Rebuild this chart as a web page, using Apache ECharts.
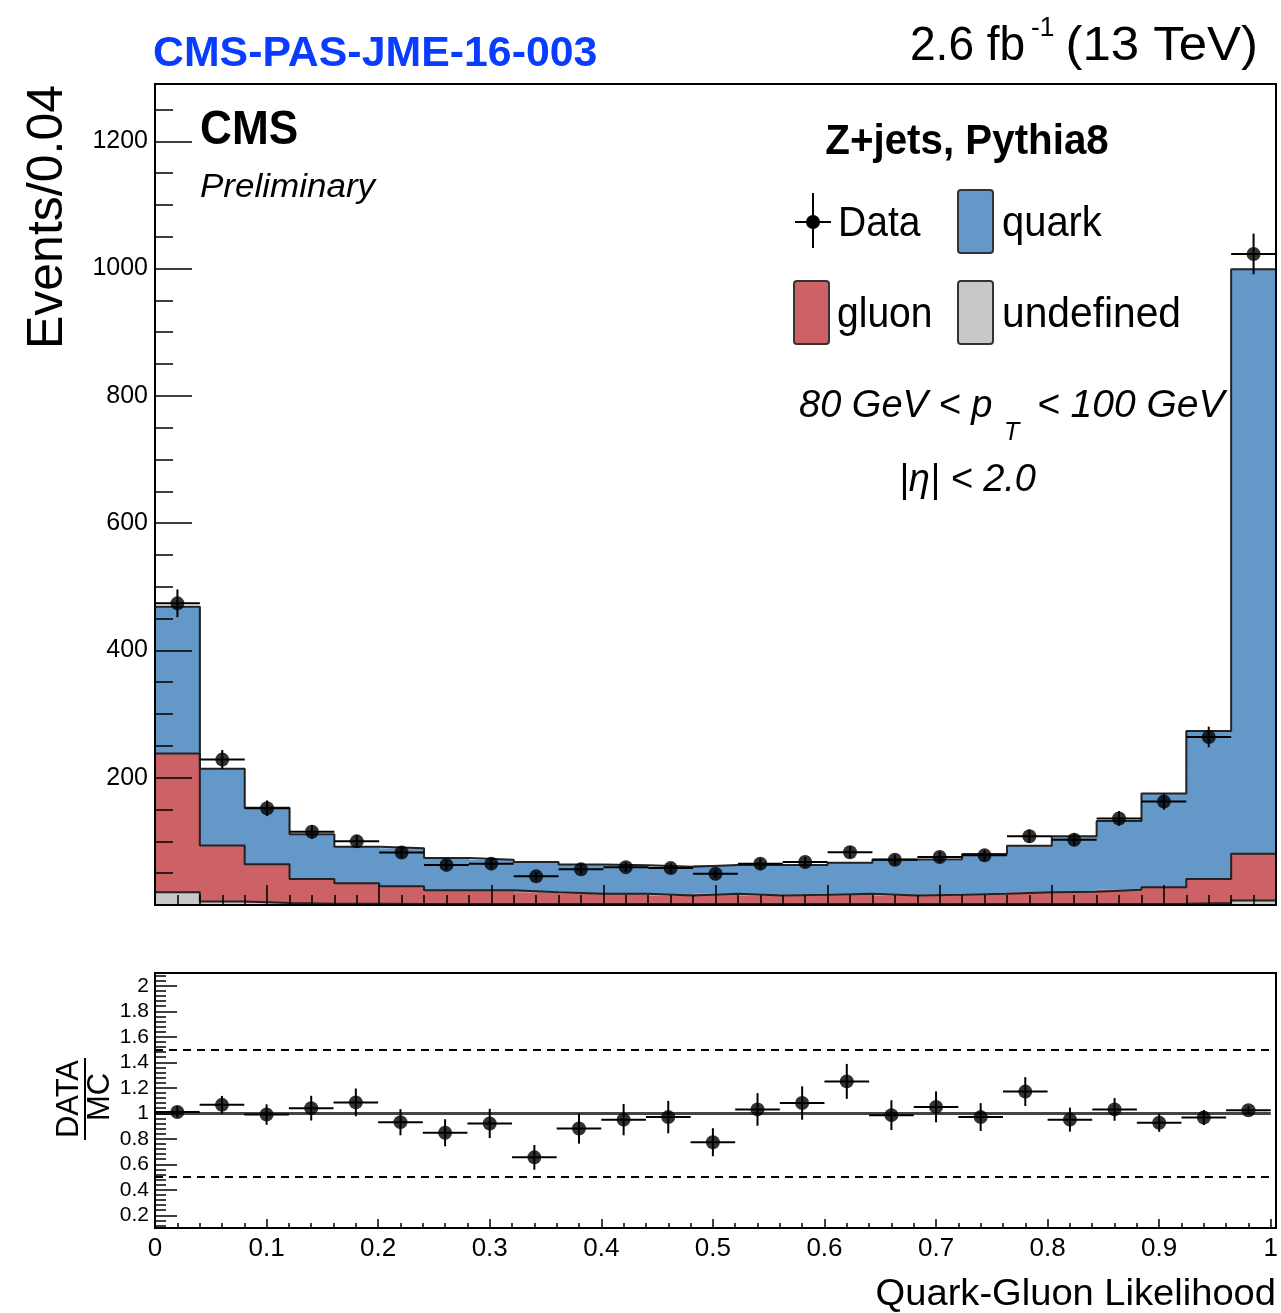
<!DOCTYPE html>
<html><head><meta charset="utf-8">
<script src="https://cdn.jsdelivr.net/npm/echarts/dist/echarts.min.js"></script>
<style>html,body{margin:0;padding:0;background:#fff}#c{width:1281px;height:1313px}</style>
</head><body><div id="c"></div>
<script>
// ---------------- data ----------------
const binCenters = [0.02,0.06,0.10,0.14,0.18,0.22,0.26,0.30,0.34,0.38,0.42,0.46,0.50,0.54,0.58,0.62,0.66,0.70,0.74,0.78,0.82,0.86,0.90,0.94,0.98];
const binWidth = 0.04;
const undefinedCounts = [20,5.5,3,2,2,1.5,1.5,1.5,1.5,1.5,1.5,1.5,1.5,1.5,1.5,1.5,1.5,1.5,1.5,1.5,1.5,1.5,2,3,7];
const gluonCounts = [218,88,61,39,32,28,21.5,21.5,18.5,16,16,13.5,16,13.5,14.5,16,13.5,14.5,16,18.5,19.5,22.5,26,38,73.5];
const quarkCounts = [230.5,120.5,89,70,57.5,59.5,51,48,47.5,46,45,45,45.5,48,47,49,56.5,56,62.5,73,87,108,147,232.5,918.5];
const dataCounts = [474,228.5,152,115,100,82.5,63,65,45,56,59.5,58,49,65,67.5,83,71,75.5,78,108,102.5,136,162.5,264,1023];
const dataErrors = [21.8,15.1,12.3,10.7,10,9.1,7.9,8.1,6.7,7.5,7.7,7.6,7,8.1,8.2,9.1,8.4,8.7,8.8,10.4,10.1,11.7,12.7,16.2,32];
const ratioValues = [1.01,1.066,0.99,1.04,1.085,0.93,0.847,0.92,0.654,0.88,0.95,0.97,0.773,1.03,1.08,1.25,0.985,1.05,0.97,1.17,0.95,1.03,0.926,0.966,1.024];
const ratioErrors = [0.046,0.07,0.08,0.097,0.109,0.103,0.106,0.115,0.097,0.118,0.123,0.127,0.11,0.128,0.131,0.137,0.117,0.121,0.109,0.113,0.094,0.089,0.072,0.059,0.032];
const countTickLabels = [200,400,600,800,1000,1200];
const ratioTickLabels = [0.2,0.4,0.6,0.8,1,1.2,1.4,1.6,1.8,2];
const ratioRefLines = {unity: 1, upper: 1.5, lower: 0.5};

// ---------------- helpers ----------------
const FONT = "'Liberation Sans', Arial, Helvetica, sans-serif";
const C_QUARK = '#6498c8', C_GLUON = '#cc6166', C_UNDEF = '#c8c8c8';
const lvlU = undefinedCounts.slice();
const lvlG = lvlU.map((v,i)=>v+gluonCounts[i]);
const lvlQ = lvlG.map((v,i)=>v+quarkCounts[i]);
const lo = binCenters.map(c=>c-binWidth/2), hi = binCenters.map(c=>c+binWidth/2);

function layer(base, top){ return binCenters.map((c,i)=>[lo[i],hi[i],base?base[i]:0,top[i]]); }
function stepData(levels){ const d = lo.map((e,i)=>[e,levels[i]]); d.push([hi[hi.length-1], levels[levels.length-1]]); return d; }
function fillRender(color){
  return function(params, api){
    const p0 = api.coord([api.value(0), api.value(3)]);
    const p1 = api.coord([api.value(1), api.value(2)]);
    return {type:'rect', shape:{x:p0[0], y:p0[1], width:p1[0]-p0[0]+0.7, height:p1[1]-p0[1]}, style:{fill:color}};
  };
}
function errRender(params, api){
  const x=api.value(0), y=api.value(1), e=api.value(2);
  const t=api.coord([x,y+e]), b=api.coord([x,y-e]), l=api.coord([x-binWidth/2,y]), r=api.coord([x+binWidth/2,y]);
  return {type:'group', children:[
    {type:'line', shape:{x1:t[0],y1:t[1],x2:b[0],y2:b[1]}, style:{stroke:'#000', lineWidth:2}},
    {type:'line', shape:{x1:l[0],y1:l[1],x2:r[0],y2:r[1]}, style:{stroke:'#000', lineWidth:2}}
  ]};
}
const minorCount = []; for (let v=50; v<1290; v+=50) minorCount.push(v);
const minorRatio = []; for (let k=3; k<=52; k++) minorRatio.push(Math.round(k*4)/100);

function txt(x,y,text,font,opts){
  opts = opts||{};
  return {type:'text', x:x, y:y, z:100, rotation:opts.rot||0, scaleX:opts.sx||1, scaleY:opts.sy||1,
    style:{text:text, font:font, fill:opts.fill||'#000', textAlign:opts.align||'left', textVerticalAlign:'middle'}};
}

const G0 = {left:155, top:84, width:1121, height:821};
const G1 = {left:155, top:973, width:1121, height:255};

const axisLineStyle = {color:'#000', width:2};
const plain = v => String(v);
const option = {
  animation:false,
  backgroundColor:'#fff',
  grid:[G0, G1],
  xAxis:[
    {type:'value', gridIndex:0, min:0, max:1, interval:0.1, z:10,
     axisLine:{show:true, onZero:false, lineStyle:axisLineStyle},
     axisTick:{show:true, inside:true, length:20, lineStyle:{color:'#000', width:1.5}},
     minorTick:{show:true, splitNumber:5, length:10, lineStyle:{color:'#000', width:1.5}},
     axisLabel:{show:false}, splitLine:{show:false}},
    {type:'value', gridIndex:1, min:0, max:1, interval:0.1, z:10,
     axisLine:{show:true, onZero:false, lineStyle:axisLineStyle},
     axisTick:{show:true, inside:true, length:9, lineStyle:{color:'#000', width:1.5}},
     minorTick:{show:true, splitNumber:5, length:5, lineStyle:{color:'#000', width:1.5}},
     axisLabel:{show:true, margin:8, color:'#000', fontSize:26, fontFamily:FONT, formatter:plain},
     splitLine:{show:false}}
  ],
  yAxis:[
    {type:'value', gridIndex:0, min:0, max:1290, z:10, position:'left',
     axisLine:{show:true, onZero:false, lineStyle:axisLineStyle},
     axisTick:{show:true, inside:true, length:37, customValues:countTickLabels, lineStyle:{color:'#000', width:1.5}},
     axisLabel:{show:true, margin:7, color:'#000', fontSize:25, fontFamily:FONT, customValues:countTickLabels, formatter:plain},
     splitLine:{show:false}},
    {type:'value', gridIndex:1, min:0.1, max:2.1, z:10, position:'left',
     axisLine:{show:true, onZero:false, lineStyle:axisLineStyle},
     axisTick:{show:true, inside:true, length:22, customValues:ratioTickLabels, lineStyle:{color:'#000', width:1.5}},
     axisLabel:{show:true, margin:6, color:'#000', fontSize:21, fontFamily:FONT, customValues:ratioTickLabels, formatter:plain},
     splitLine:{show:false}},
    {type:'value', gridIndex:0, min:0, max:1290, z:10, position:'left', offset:0,
     axisLine:{show:false}, axisLabel:{show:false}, splitLine:{show:false},
     axisTick:{show:true, inside:true, length:18, customValues:minorCount, lineStyle:{color:'#000', width:1.5}}},
    {type:'value', gridIndex:1, min:0.1, max:2.1, z:10, position:'left', offset:0,
     axisLine:{show:false}, axisLabel:{show:false}, splitLine:{show:false},
     axisTick:{show:true, inside:true, length:11, customValues:minorRatio, lineStyle:{color:'#000', width:1.5}}}
  ],
  series:[
    {type:'custom', name:'undefined', xAxisIndex:0, yAxisIndex:0, renderItem:fillRender(C_UNDEF), encode:{x:[0,1], y:[2,3]}, data:layer(null,lvlU), z:1},
    {type:'custom', name:'gluon', xAxisIndex:0, yAxisIndex:0, renderItem:fillRender(C_GLUON), encode:{x:[0,1], y:[2,3]}, data:layer(lvlU,lvlG), z:1},
    {type:'custom', name:'quark', xAxisIndex:0, yAxisIndex:0, renderItem:fillRender(C_QUARK), encode:{x:[0,1], y:[2,3]}, data:layer(lvlG,lvlQ), z:1},
    {type:'line', xAxisIndex:0, yAxisIndex:0, step:'end', symbol:'none', data:stepData(lvlU), lineStyle:{color:'#222', width:2}, z:3},
    {type:'line', xAxisIndex:0, yAxisIndex:0, step:'end', symbol:'none', data:stepData(lvlG), lineStyle:{color:'#222', width:2}, z:3},
    {type:'line', xAxisIndex:0, yAxisIndex:0, step:'end', symbol:'none', data:stepData(lvlQ), lineStyle:{color:'#222', width:2}, z:3},
    {type:'custom', xAxisIndex:0, yAxisIndex:0, renderItem:errRender, encode:{x:0, y:1}, data:binCenters.map((c,i)=>[c,dataCounts[i],dataErrors[i]]), z:4},
    {type:'scatter', xAxisIndex:0, yAxisIndex:0, symbol:'circle', symbolSize:14, itemStyle:{color:'#000'}, data:binCenters.map((c,i)=>[c,dataCounts[i]]), z:5},
    {type:'custom', xAxisIndex:1, yAxisIndex:1, renderItem:errRender, encode:{x:0, y:1}, data:binCenters.map((c,i)=>[c,ratioValues[i],ratioErrors[i]]), z:4},
    {type:'scatter', xAxisIndex:1, yAxisIndex:1, symbol:'circle', symbolSize:14, itemStyle:{color:'#000'}, data:binCenters.map((c,i)=>[c,ratioValues[i]]), z:5,
     markLine:{silent:true, symbol:'none', label:{show:false}, animation:false, z:2,
       data:[
         {yAxis:ratioRefLines.unity, lineStyle:{type:'solid', color:'#444', width:3}},
         {yAxis:ratioRefLines.upper, lineStyle:{type:[8,6], color:'#000', width:2}},
         {yAxis:ratioRefLines.lower, lineStyle:{type:[8,6], color:'#000', width:2}}
       ]}}
  ],
  graphic:[
    {type:'rect', z:100, shape:{x:G0.left, y:G0.top, width:G0.width, height:G0.height}, style:{fill:null, stroke:'#000', lineWidth:2}},
    {type:'rect', z:100, shape:{x:G1.left, y:G1.top, width:G1.width, height:G1.height}, style:{fill:null, stroke:'#000', lineWidth:2}},
    txt(153,54,'CMS-PAS-JME-16-003','bold 42px '+FONT,{fill:'#0a3cff', sx:1.02}),
    txt(910,46,'2.6 fb','49px '+FONT,{sx:0.94}),
    txt(1031,28,'-1','28px '+FONT,{sx:0.94}),
    txt(1258,46,'(13 TeV)','49px '+FONT,{sx:1.04, align:'right'}),
    txt(48,85,'Events/0.04','50px '+FONT,{rot:Math.PI/2, align:'right'}),
    txt(200,131,'CMS','bold 48px '+FONT,{sx:0.92}),
    txt(200,188,'Preliminary','italic 34px '+FONT,{sx:1.03}),
    txt(967,142,'Z+jets, Pythia8','bold 42px '+FONT,{sx:0.96, align:'center'}),
    // legend
    {type:'line', z:100, shape:{x1:813,y1:193,x2:813,y2:248}, style:{stroke:'#000', lineWidth:2}},
    {type:'line', z:100, shape:{x1:795,y1:222,x2:831,y2:222}, style:{stroke:'#000', lineWidth:2}},
    {type:'circle', z:100, shape:{cx:813, cy:222, r:7}, style:{fill:'#000'}},
    {type:'rect', z:100, shape:{x:958, y:190, width:35, height:63, r:3}, style:{fill:C_QUARK, stroke:'#333', lineWidth:2}},
    {type:'rect', z:100, shape:{x:794, y:281, width:35, height:63, r:3}, style:{fill:C_GLUON, stroke:'#333', lineWidth:2}},
    {type:'rect', z:100, shape:{x:958, y:281, width:35, height:63, r:3}, style:{fill:C_UNDEF, stroke:'#333', lineWidth:2}},
    txt(838,224,'Data','42px '+FONT,{sx:0.93}),
    txt(1002,224,'quark','42px '+FONT,{sx:0.95}),
    txt(837,315,'gluon','42px '+FONT,{sx:0.93}),
    txt(1002,315,'undefined','42px '+FONT,{sx:0.97}),
    txt(799,406,'80 GeV < p','italic 38px '+FONT,{}),
    txt(1004,433,'T','italic 25px '+FONT,{}),
    txt(1037,406,'< 100 GeV','italic 39px '+FONT,{}),
    txt(899,480,'|η| < 2.0','italic 38px '+FONT,{}),
    // ratio title
    txt(69,1099,'DATA','31px '+FONT,{rot:Math.PI/2, align:'center'}),
    txt(100,1097,'MC','31px '+FONT,{rot:Math.PI/2, align:'center'}),
    {type:'line', z:100, shape:{x1:85,y1:1058,x2:85,y2:1140}, style:{stroke:'#000', lineWidth:2}},
    txt(1276,1295,'Quark-Gluon Likelihood','37px '+FONT,{align:'right', sx:1.03})
  ]
};
const chart = echarts.init(document.getElementById('c'), null, {renderer:'canvas', width:1281, height:1313});
chart.setOption(option);
</script></body></html>
